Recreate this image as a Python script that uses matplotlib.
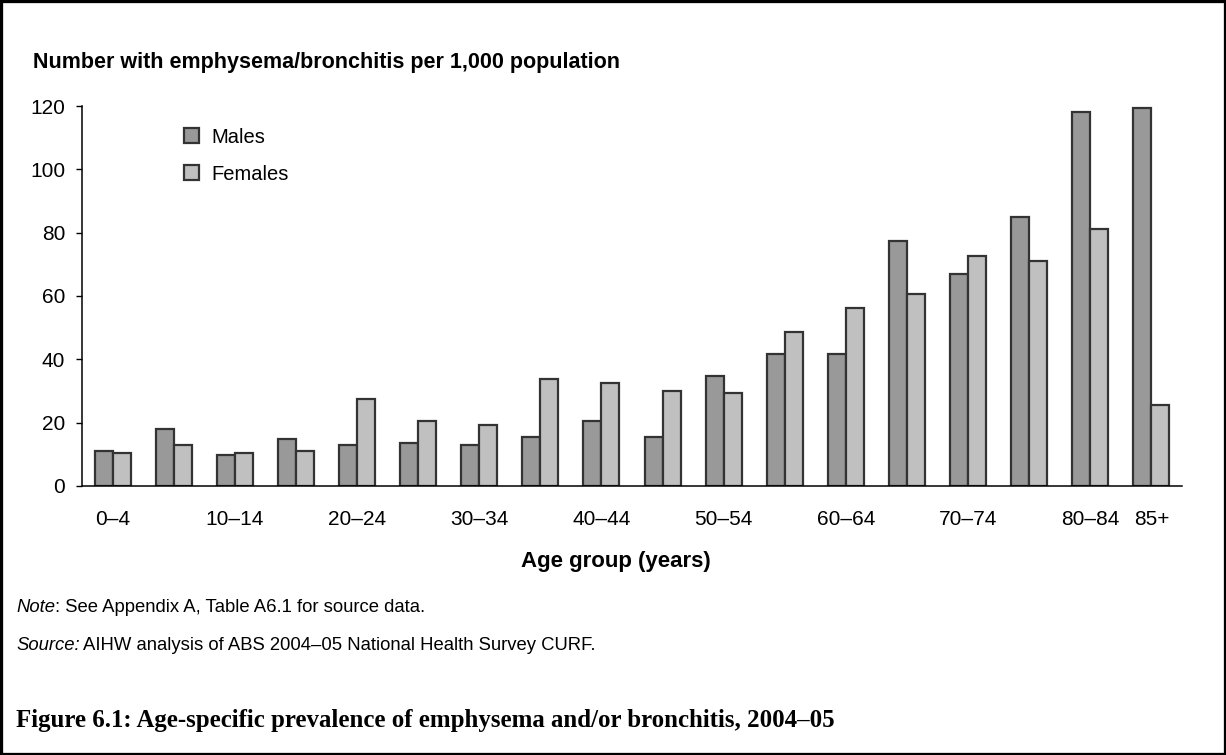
import matplotlib.pyplot as plt
import matplotlib.patches as mpatches
import numpy as np

# Data (per 1,000 population)
age_groups = ['0–4', '5–9', '10–14', '15–19', '20–24', '25–29', '30–34', '35–39',
              '40–44', '45–49', '50–54', '55–59', '60–64', '65–69', '70–74',
              '75–79', '80–84', '85+']
males = [11.1, 18.1, 9.9, 14.9, 13.0, 13.7, 13.0, 15.6, 20.5, 15.6, 34.8, 41.8,
         41.7, 77.4, 66.9, 85.0, 118.0, 119.3]
females = [10.5, 13.0, 10.5, 11.1, 27.4, 20.6, 19.3, 33.7, 32.4, 29.9, 29.3, 48.6,
           56.1, 60.6, 72.5, 71.1, 81.2, 25.6]
shown_ticks = ['0–4', '10–14', '20–24', '30–34', '40–44', '50–54', '60–64',
               '70–74', '80–84', '85+']

plt.rcParams['font.family'] = ['Liberation Sans', 'DejaVu Sans']

W, H = 1226, 755
fig = plt.figure(figsize=(W / 100, H / 100), dpi=100)
ax = fig.add_axes([0.0669, 0.3563, 0.8972, 0.5033])

x = np.arange(len(age_groups))
w = 0.295
edge = '#333333'
ax.bar(x - w / 2, males, w, color='#999999', edgecolor=edge, linewidth=1.6, label='Males')
ax.bar(x + w / 2, females, w, color='#c0c0c0', edgecolor=edge, linewidth=1.6, label='Females')

ax.set_xlim(-0.5, len(age_groups) - 0.5)
ax.set_ylim(0, 120)
ax.set_yticks(np.arange(0, 121, 20))
ax.tick_params(axis='y', length=4, width=1, pad=8, labelsize=15)
ticks = [age_groups.index(t) for t in shown_ticks]
ax.set_xticks(ticks)
ax.set_xticklabels(shown_ticks)
ax.tick_params(axis='x', length=0, pad=17, labelsize=15)

for s in ['top', 'right']:
    ax.spines[s].set_visible(False)
for s in ['left', 'bottom']:
    ax.spines[s].set_linewidth(1.1)

ax.legend(loc='upper left', bbox_to_anchor=(0.150, 0.831), bbox_transform=fig.transFigure,
          frameon=False, fontsize=14.5, handlelength=0.75, handleheight=0.75,
          handletextpad=0.6, labelspacing=0.9, borderpad=0, borderaxespad=0)

fig.text(0.0269, 0.910, 'Number with emphysema/bronchitis per 1,000 population',
         fontsize=15.5, fontweight='bold', va='baseline')
fig.text(616 / W, 1 - 567 / H, 'Age group (years)', fontsize=16, fontweight='bold',
         ha='center', va='baseline')

# note and source lines (italic lead-in followed by plain text)
fig.canvas.draw()
t1 = fig.text(16 / W, 1 - 612 / H, 'Note', fontsize=13.3, style='italic', va='baseline')
bb = t1.get_window_extent()
fig.text(bb.x1 / W, 1 - 612 / H, ': See Appendix A, Table A6.1 for source data.',
         fontsize=13.3, va='baseline')
t2 = fig.text(16 / W, 1 - 650 / H, 'Source:', fontsize=13.3, style='italic', va='baseline')
bb = t2.get_window_extent()
fig.text(bb.x1 / W + 0.003, 1 - 650 / H, 'AIHW analysis of ABS 2004–05 National Health Survey CURF.',
         fontsize=13.3, va='baseline')

fig.text(16 / W, 1 - 727 / H,
         'Figure 6.1: Age-specific prevalence of emphysema and/or bronchitis, 2004–05',
         fontsize=17.9, fontweight='bold', family=['Liberation Serif', 'DejaVu Serif'], va='baseline')

fig.patches.append(mpatches.Rectangle((0, 0), 1, 1, transform=fig.transFigure, fill=False,
                                      edgecolor='black', linewidth=3.8))

fig.savefig('out.png', dpi=100)
